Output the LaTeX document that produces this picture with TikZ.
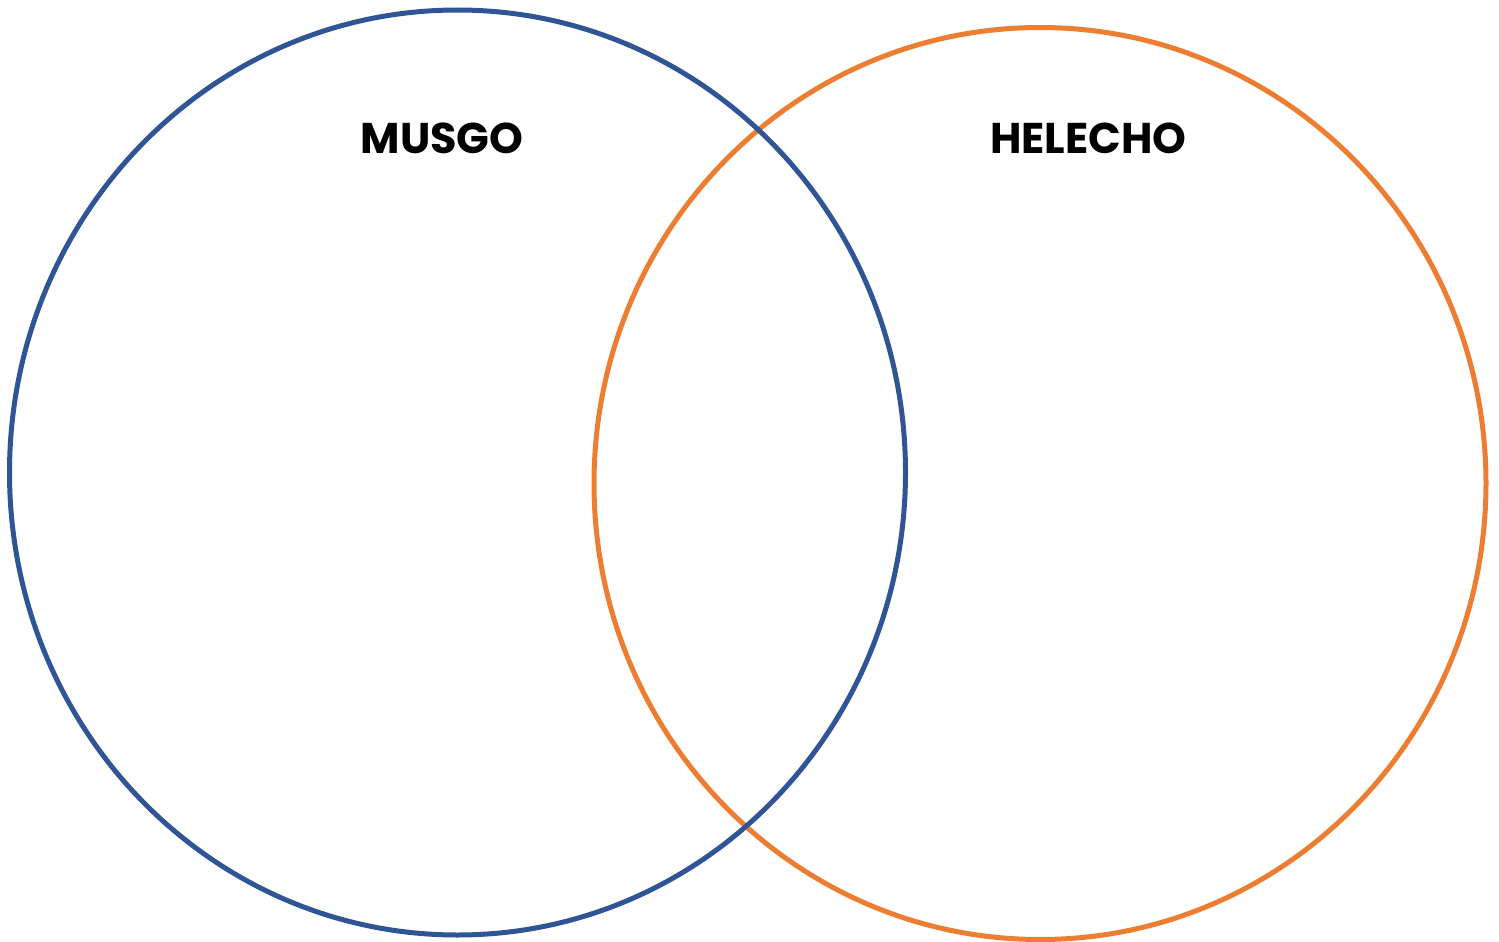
\documentclass[tikz,border=0pt]{standalone}
\usepackage{fontspec}
\setmainfont{Poppins}
\definecolor{vblue}{HTML}{2F5597}
\definecolor{vorange}{HTML}{ED7D31}
\tikzset{
  ring/.style={line width=5pt},
  lbl/.style={font=\fontsize{43}{48}\selectfont\bfseries, inner sep=0pt, text=black}
}
\begin{document}
\begin{tikzpicture}[x=1pt,y=-1pt]
\useasboundingbox (0,0) rectangle (1499,942);
\draw[ring, vorange] (1040,483.5) ellipse [x radius=446, y radius=456];
\draw[ring, vblue] (457.5,472.5) ellipse [x radius=448, y radius=462.5];
\node[lbl] (musgo) at (442,138) {MUSGO};
\node[lbl] (helecho) at (1088.5,138) {HELECHO};
\end{tikzpicture}
\end{document}
